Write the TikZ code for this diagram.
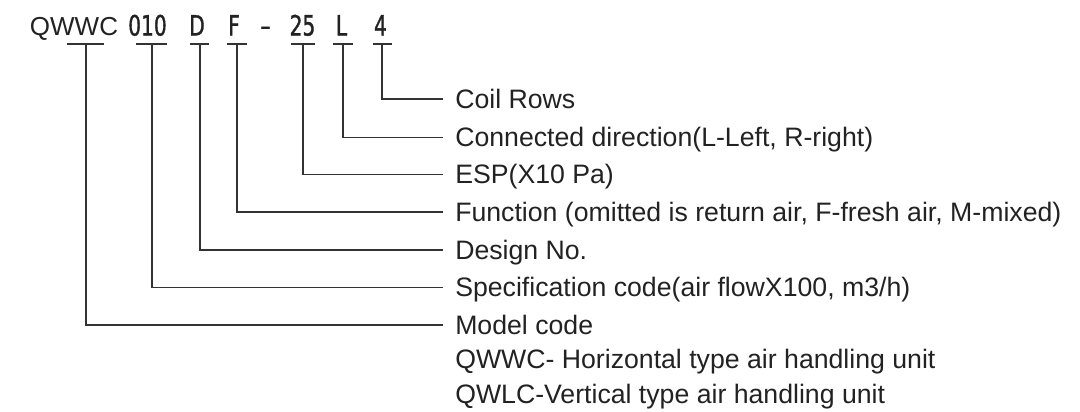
\documentclass[tikz,border=0pt]{standalone}
\usepackage{fontspec}
\setmainfont{Liberation Sans}
\newfontfamily\codefont[FakeStretch=0.8, FakeBold=1.2]{DejaVu Sans Condensed}
\definecolor{inkgray}{HTML}{222222}
\definecolor{leadgray}{HTML}{333333}
\tikzset{
  part/.style={anchor=base, inner sep=0pt, text=inkgray, font=\codefont\fontsize{21}{24}\selectfont},
  desc/.style={anchor=west, inner xsep=9pt, inner ysep=0pt, text height=14pt, text depth=0pt,
    text=inkgray, font=\fontsize{20}{22}\selectfont},
  lead/.style={draw=leadgray, line width=0.8pt},
}
\begin{document}
\begin{tikzpicture}[x=0.75pt, y=-0.75pt]
	\useasboundingbox (0,0) rectangle (1080,411);
	% model string
	\node[part, font=\fontsize{19.5}{22}\selectfont](qwwc) at (74,35.5){QWWC};
	\node[part](spec) at (147.5,35.5){010};
	\node[part](dsg) at (197,35.5){D};
	\node[part](fun) at (234,35.5){F};
	\node[part](dash) at (265.5,35.5){–};
	\node[part](esp) at (302.5,35.5){25};
	\node[part](dir) at (341.5,35.5){L};
	\node[part](rows) at (380.5,35.5){4};
	% tick points under the parts
	\coordinate(t1) at (86,44);
	\coordinate(t2) at (152,44);
	\coordinate(t3) at (200,44);
	\coordinate(t4) at (237,44);
	\coordinate(t5) at (303,44);
	\coordinate(t6) at (343,44);
	\coordinate(t7) at (382,44);
	% meanings
	\node[desc](lrows) at (443,99){Coil Rows};
	\node[desc](ldir) at (443,137.3){Connected direction(L-Left, R-right)};
	\node[desc](lesp) at (443,174.5){ESP(X10 Pa)};
	\node[desc](lfun) at (443,212){Function (omitted is return air, F-fresh air, M-mixed)};
	\node[desc](ldsg) at (443,250){Design No.};
	\node[desc](lspec) at (443,287.5){Specification code(air flowX100, m3/h)};
	\node[desc](lmodel) at (443,325){Model code};
	\node[desc](lhor) at (443,359.5){QWWC- Horizontal type air handling unit};
	\node[desc](lver) at (443,394.5){QWLC-Vertical type air handling unit};
	% underlines
	\draw[lead](67,44) -- (104,44);
	\draw[lead](136,44) -- (167,44);
	\draw[lead](190,44) -- (209,44);
	\draw[lead](227,44) -- (247,44);
	\draw[lead](291,44) -- (315,44);
	\draw[lead](333,44) -- (353,44);
	\draw[lead](373,44) -- (392,44);
	% leaders
	\draw[lead](t7) |- (lrows.west);
	\draw[lead](t6) |- (ldir.west);
	\draw[lead](t5) |- (lesp.west);
	\draw[lead](t4) |- (lfun.west);
	\draw[lead](t3) |- (ldsg.west);
	\draw[lead](t2) |- (lspec.west);
	\draw[lead](t1) |- (lmodel.west);
\end{tikzpicture}
\end{document}
